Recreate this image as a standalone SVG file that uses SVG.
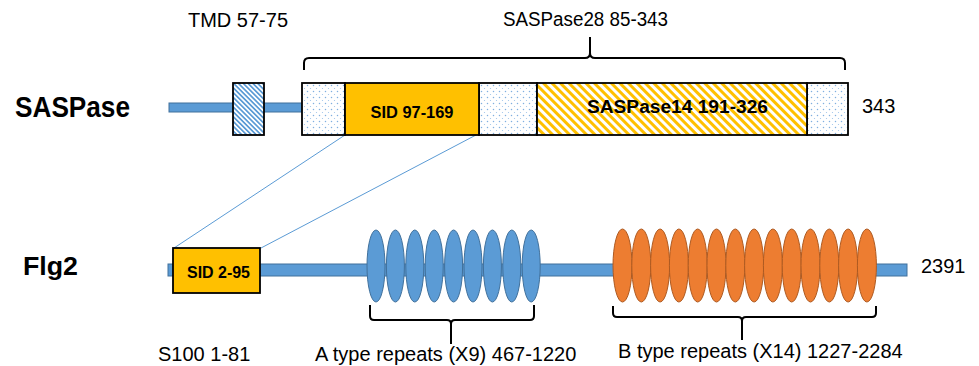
<svg xmlns="http://www.w3.org/2000/svg" width="979" height="366" viewBox="0 0 979 366">
<style>
  .t { font-family: "Liberation Sans", Arial, sans-serif; font-size: 20px; fill: #000; }
  .b { font-family: "Liberation Sans", Arial, sans-serif; font-weight: bold; fill: #000; }
  .bk { fill: #5B9BD5; stroke: #41719C; stroke-width: 1; }
  .box { stroke: #000; stroke-width: 1.8; }
  .ova { fill: #5B9BD5; stroke: #41719C; stroke-width: 1; }
  .ovb { fill: #ED7D31; stroke: #AE5A21; stroke-width: 1; }
  .br { fill: none; stroke: #000; stroke-width: 2; }
  .con { stroke: #5B9BD5; stroke-width: 1; fill: none; }
</style>
<defs>
  <pattern id="dots" patternUnits="userSpaceOnUse" width="6" height="6">
    <rect width="6" height="6" fill="#fff"/>
    <circle cx="1.5" cy="1.5" r="0.75" fill="#7FAFE0"/>
    <circle cx="4.5" cy="4.5" r="0.6" fill="#9CC2EA"/>
  </pattern>
  <pattern id="hatchBlue" patternUnits="userSpaceOnUse" width="3.4" height="3.4" patternTransform="rotate(-45)">
    <rect width="3.4" height="3.4" fill="#fff"/>
    <line x1="0.85" y1="0" x2="0.85" y2="3.4" stroke="#5B9BD5" stroke-width="1.7"/>
  </pattern>
  <pattern id="hatchYellow" patternUnits="userSpaceOnUse" width="6" height="6" patternTransform="rotate(-45)">
    <rect width="6" height="6" fill="#fff"/>
    <line x1="1.5" y1="0" x2="1.5" y2="6" stroke="#FFC000" stroke-width="3"/>
  </pattern>
</defs>
<rect width="979" height="366" fill="#fff"/>

<g id="connectors">
  <line class="con" x1="345" y1="135" x2="174" y2="248"/>
  <line class="con" x1="476" y1="135" x2="261" y2="248"/>
</g>

<g id="saspase">
  <text class="b" x="15" y="117" font-size="30" textLength="115" lengthAdjust="spacingAndGlyphs">SASPase</text>
  <rect class="bk" x="169" y="103" width="134" height="9"/>
  <g id="tmd">
    <rect class="box" x="233" y="83" width="31" height="52" fill="url(#hatchBlue)"/>
    <text class="t" x="238" y="27" text-anchor="middle">TMD 57-75</text>
  </g>
  <g id="saspase28">
    <rect class="box" x="302" y="83" width="43" height="52" fill="url(#dots)"/>
    <rect class="box" x="479" y="83" width="58" height="52" fill="url(#dots)"/>
    <rect class="box" x="807" y="83" width="41" height="52" fill="url(#dots)"/>
    <path class="br" d="M304,70 L304,63 Q304,58 309,58 L585,58 Q590,58 590,53 L590,37 M590,53 Q590,58 595,58 L840,58 Q845,58 845,63 L845,70"/>
    <text class="t" x="585.5" y="26" text-anchor="middle" textLength="165" lengthAdjust="spacingAndGlyphs">SASPase28 85-343</text>
  </g>
  <g id="sid1">
    <rect class="box" x="345" y="83" width="134" height="52" fill="#FFC000"/>
    <text class="b" x="412" y="118" font-size="16.5" text-anchor="middle" textLength="83" lengthAdjust="spacingAndGlyphs">SID 97-169</text>
  </g>
  <g id="saspase14">
    <rect class="box" x="537" y="83" width="270" height="52" fill="url(#hatchYellow)"/>
    <text class="b" x="677.5" y="113" font-size="18" text-anchor="middle" textLength="181" lengthAdjust="spacingAndGlyphs">SASPase14 191-326</text>
  </g>
  <text class="t" x="862" y="113">343</text>
</g>

<g id="flg2">
  <text class="b" x="23" y="275" font-size="26" textLength="55" lengthAdjust="spacingAndGlyphs">Flg2</text>
  <rect class="bk" x="168" y="264" width="739" height="12"/>
  <g id="sid2">
    <rect class="box" x="173" y="248" width="87" height="45" fill="#FFC000"/>
    <text class="b" x="218.5" y="278" font-size="16" text-anchor="middle" textLength="63" lengthAdjust="spacingAndGlyphs">SID 2-95</text>
  </g>
  <text class="t" x="158" y="361">S100 1-81</text>
  <g id="repeatsA">
    <ellipse class="ova" cx="376" cy="266" rx="9" ry="36"/>
    <ellipse class="ova" cx="395.4" cy="266" rx="9" ry="36"/>
    <ellipse class="ova" cx="414.8" cy="266" rx="9" ry="36"/>
    <ellipse class="ova" cx="434.2" cy="266" rx="9" ry="36"/>
    <ellipse class="ova" cx="453.6" cy="266" rx="9" ry="36"/>
    <ellipse class="ova" cx="473" cy="266" rx="9" ry="36"/>
    <ellipse class="ova" cx="492.4" cy="266" rx="9" ry="36"/>
    <ellipse class="ova" cx="511.8" cy="266" rx="9" ry="36"/>
    <ellipse class="ova" cx="531.2" cy="266" rx="9" ry="36"/>
    <path class="br" d="M370,305 L370,316 Q370,320 374,320 L447,320 Q451,320 451,324 L451,344 M451,324 Q451,320 455,320 L530,320 Q534,320 534,316 L534,305"/>
    <text class="t" x="315" y="361">A type repeats (X9) 467-1220</text>
  </g>
  <g id="repeatsB">
    <ellipse class="ovb" cx="622.5" cy="265.5" rx="9.5" ry="36.5"/>
    <ellipse class="ovb" cx="641.3" cy="265.5" rx="9.5" ry="36.5"/>
    <ellipse class="ovb" cx="660.1" cy="265.5" rx="9.5" ry="36.5"/>
    <ellipse class="ovb" cx="678.9" cy="265.5" rx="9.5" ry="36.5"/>
    <ellipse class="ovb" cx="697.7" cy="265.5" rx="9.5" ry="36.5"/>
    <ellipse class="ovb" cx="716.5" cy="265.5" rx="9.5" ry="36.5"/>
    <ellipse class="ovb" cx="735.3" cy="265.5" rx="9.5" ry="36.5"/>
    <ellipse class="ovb" cx="754.1" cy="265.5" rx="9.5" ry="36.5"/>
    <ellipse class="ovb" cx="772.9" cy="265.5" rx="9.5" ry="36.5"/>
    <ellipse class="ovb" cx="791.7" cy="265.5" rx="9.5" ry="36.5"/>
    <ellipse class="ovb" cx="810.5" cy="265.5" rx="9.5" ry="36.5"/>
    <ellipse class="ovb" cx="829.3" cy="265.5" rx="9.5" ry="36.5"/>
    <ellipse class="ovb" cx="848.1" cy="265.5" rx="9.5" ry="36.5"/>
    <ellipse class="ovb" cx="866.9" cy="265.5" rx="9.5" ry="36.5"/>
    <path class="br" d="M613,306 L613,313 Q613,317 617,317 L738,317 Q742,317 742,321 L742,340 M742,321 Q742,317 746,317 L872,317 Q876,317 876,313 L876,306"/>
    <text class="t" x="618" y="358">B type repeats (X14) 1227-2284</text>
  </g>
  <text class="t" x="921" y="273">2391</text>
</g>
</svg>
